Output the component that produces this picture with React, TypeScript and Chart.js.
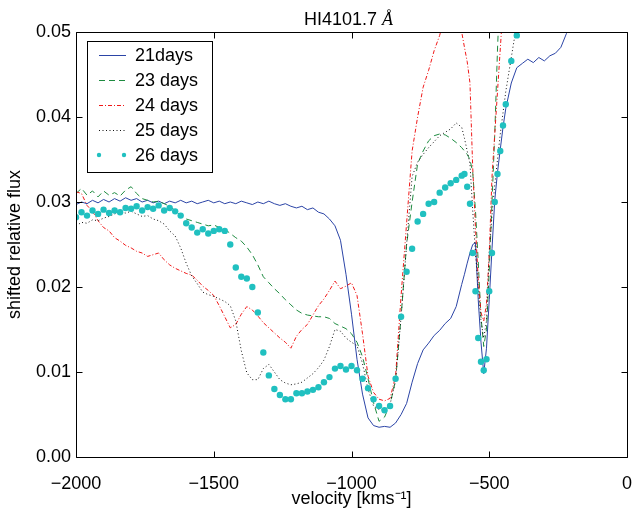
import React, { useEffect, useRef } from "react";
import { Chart, registerables } from "chart.js";

Chart.register(...registerables);

const FONT = "'Liberation Sans', Arial, Helvetica, sans-serif";

const TITLE_MAIN = "HI4101.7 ";
const TITLE_UNIT = "Å";
const X_LABEL = "velocity [kms⁻¹]";
const Y_LABEL = "shifted relative flux";
const SERIES_LABELS = ["21days", "23 days", "24 days", "25 days", "26 days"];
const X_TICKS = [-2000, -1500, -1000, -500, 0];
const Y_TICKS = [0, 0.01, 0.02, 0.03, 0.04, 0.05];

const VELOCITY = [
  -2000, -1980, -1960, -1940, -1920, -1900, -1880, -1860, -1840, -1820,
  -1800, -1780, -1760, -1740, -1720, -1700, -1680, -1660, -1640, -1620,
  -1600, -1580, -1560, -1540, -1520, -1500, -1480, -1460, -1440, -1420,
  -1400, -1380, -1360, -1340, -1320, -1300, -1280, -1260, -1240, -1220,
  -1200, -1180, -1160, -1140, -1120, -1100, -1080, -1060, -1040, -1020,
  -1000, -980, -960, -940, -920, -900, -880, -860, -840, -820,
  -800, -780, -760, -740, -720, -700, -680, -660, -640, -620,
  -600, -590, -580, -570, -560, -550, -540, -530, -520, -510,
  -500, -490, -480, -470, -460, -450, -440, -420, -400, -380,
  -360, -340, -320, -300, -280, -260, -240, -220, -200,
];

const FLUX_21 = [
  0.0297, 0.0300, 0.0298, 0.0302, 0.0299, 0.0303, 0.0300, 0.0304, 0.0301, 0.0305,
  0.0302, 0.0304, 0.0300, 0.0302, 0.0299, 0.0301, 0.0298, 0.0301, 0.0299, 0.0302,
  0.0299, 0.0301, 0.0298, 0.0300, 0.0302, 0.0299, 0.0301, 0.0298, 0.0300, 0.0298,
  0.0301, 0.0299, 0.0297, 0.0300, 0.0298, 0.0301, 0.0298, 0.0296, 0.0298, 0.0295,
  0.0293, 0.0295, 0.0291, 0.0293, 0.0288, 0.0286, 0.0280, 0.0272, 0.0255, 0.0215,
  0.0168, 0.0115, 0.0074, 0.0046, 0.0037, 0.0035, 0.0036, 0.0035, 0.0040, 0.0050,
  0.0063, 0.0088, 0.0110, 0.0126, 0.0134, 0.0143, 0.0149, 0.0157, 0.0163, 0.0177,
  0.0203, 0.0215, 0.0228, 0.0240, 0.0250, 0.0252, 0.0185, 0.0135, 0.0098, 0.0128,
  0.0185, 0.0245, 0.0302, 0.0335, 0.0362, 0.0388, 0.0410, 0.0440, 0.0458, 0.0463,
  0.0468, 0.0464, 0.0470, 0.0466, 0.0472, 0.0475, 0.0482, 0.0498, 0.0515,
];

const FLUX_23 = [
  0.0310, 0.0316, 0.0308, 0.0313, 0.0306, 0.0313, 0.0308, 0.0311, 0.0307, 0.0314,
  0.0318, 0.0310, 0.0304, 0.0302, 0.0300, 0.0301, 0.0298, 0.0295, 0.0290, 0.0284,
  0.0280, 0.0278, 0.0276, 0.0274, 0.0272, 0.0273, 0.0270, 0.0268, 0.0263, 0.0258,
  0.0254, 0.0247, 0.0238, 0.0226, 0.0212, 0.0205, 0.0198, 0.0192, 0.0185, 0.0179,
  0.0173, 0.0169, 0.0167, 0.0166, 0.0165, 0.0165, 0.0163, 0.0157, 0.0154, 0.0151,
  0.0145, 0.0135, 0.0118, 0.0092, 0.0064, 0.0042, 0.0047, 0.0062, 0.0090, 0.0165,
  0.0250, 0.0300, 0.0345, 0.0360, 0.0372, 0.0378, 0.0380, 0.0379, 0.0375, 0.0370,
  0.0364, 0.0360, 0.0356, 0.0350, 0.0335, 0.0290, 0.0230, 0.0165, 0.0130, 0.0150,
  0.0220, 0.0300, 0.0380, 0.0480, 0.0560, null, null, null, null, null,
  null, null, null, null, null, null, null, null, null,
];

const FLUX_24 = [
  0.0312, 0.0310, 0.0296, 0.0289, 0.0278, 0.0270, 0.0266, 0.0258, 0.0254, 0.0249,
  0.0246, 0.0242, 0.0240, 0.0236, 0.0238, 0.0240, 0.0232, 0.0226, 0.0222, 0.0219,
  0.0216, 0.0214, 0.0208, 0.0201, 0.0196, 0.0190, 0.0178, 0.0165, 0.0152, 0.0156,
  0.0168, 0.0177, 0.0173, 0.0166, 0.0158, 0.0152, 0.0146, 0.0140, 0.0135, 0.0128,
  0.0142, 0.0150, 0.0156, 0.0167, 0.0178, 0.0186, 0.0196, 0.0207, 0.0198, 0.0201,
  0.0205, 0.0190, 0.0145, 0.0095, 0.0076, 0.0068, 0.0066, 0.0069, 0.0095, 0.0190,
  0.0275, 0.0360, 0.0400, 0.0435, 0.0455, 0.0478, 0.0496, 0.0520, 0.0530, 0.0520,
  0.0500, 0.0482, 0.0465, 0.0440, 0.0340, 0.0270, 0.0210, 0.0170, 0.0160, 0.0180,
  0.0240, 0.0330, 0.0380, 0.0430, 0.0480, 0.0530, 0.0580, null, null, null,
  null, null, null, null, null, null, null, null, null,
];

const FLUX_25 = [
  0.0272, 0.0276, 0.0275, 0.0279, 0.0278, 0.0281, 0.0283, 0.0286, 0.0288, 0.0287,
  0.0289, 0.0286, 0.0283, 0.0284, 0.0280, 0.0278, 0.0274, 0.0266, 0.0260, 0.0246,
  0.0228, 0.0213, 0.0204, 0.0194, 0.0191, 0.0189, 0.0186, 0.0183, 0.0178, 0.0160,
  0.0125, 0.0099, 0.0091, 0.0091, 0.0104, 0.0109, 0.0100, 0.0091, 0.0087, 0.0085,
  0.0086, 0.0088, 0.0093, 0.0098, 0.0105, 0.0114, 0.0130, 0.0150, 0.0148, 0.0140,
  0.0135, 0.0131, 0.0110, 0.0080, 0.0060, 0.0056, 0.0055, 0.0062, 0.0090, 0.0165,
  0.0250, 0.0330, 0.0347, 0.0356, 0.0364, 0.0371, 0.0378, 0.0382, 0.0386, 0.0393,
  0.0388, 0.0375, 0.0360, 0.0345, 0.0290, 0.0240, 0.0200, 0.0160, 0.0140, 0.0160,
  0.0240, 0.0285, 0.0320, 0.0350, 0.0380, 0.0405, 0.0430, 0.0470, 0.0510, null,
  null, null, null, null, null, null, null, null, null,
];

const FLUX_26 = [
  0.0282, 0.0288, 0.0284, 0.0290, 0.0286, 0.0291, 0.0287, 0.0290, 0.0288, 0.0293,
  0.0292, 0.0295, 0.0290, 0.0294, 0.0292, 0.0296, 0.0290, 0.0293, 0.0289, 0.0284,
  0.0275, 0.0270, 0.0264, 0.0268, 0.0263, 0.0266, 0.0268, 0.0266, 0.0250, 0.0223,
  0.0212, 0.0210, 0.0200, 0.0170, 0.0123, 0.0096, 0.0080, 0.0073, 0.0068, 0.0068,
  0.0075, 0.0075, 0.0077, 0.0079, 0.0082, 0.0088, 0.0094, 0.0104, 0.0107, 0.0103,
  0.0107, 0.0102, 0.0092, 0.0081, 0.0068, 0.0060, 0.0055, 0.0060, 0.0092, 0.0165,
  0.0218, 0.0245, 0.0277, 0.0286, 0.0298, 0.0300, 0.0311, 0.0317, 0.0322, 0.0326,
  0.0331, 0.0333, 0.0318, 0.0298, 0.0240, 0.0195, 0.0140, 0.0112, 0.0102, 0.0115,
  0.0195, 0.0240, 0.0300, 0.0333, 0.0360, 0.0390, 0.0415, 0.0466, 0.0496, 0.0530,
  null, null, null, null, null, null, null, null, null,
];

const COLORS = ["#2b44a6", "#1e8b40", "#f01818", "#111111", "#20c0c0"];
const DASHES: number[][] = [[], [6, 4], [4, 2, 1, 2], [1, 2.5], []];

export default function App() {
  const ref = useRef<HTMLCanvasElement>(null);

  useEffect(() => {
    document.body.style.margin = "0";
    const canvas = ref.current;
    if (!canvas) return;

    const pts = (vals: (number | null)[]) =>
      VELOCITY.map((v, i) => ({ x: v, y: vals[i] }));

    const seriesVals = [FLUX_21, FLUX_23, FLUX_24, FLUX_25, FLUX_26];
    const datasets: any[] = seriesVals.map((vals, i) => {
      const isDots = i === 4;
      return {
        label: SERIES_LABELS[i],
        data: pts(vals),
        borderColor: COLORS[i],
        backgroundColor: COLORS[i],
        borderWidth: 1,
        borderDash: DASHES[i],
        showLine: !isDots,
        pointRadius: isDots ? 3.2 : 0,
        pointBorderWidth: 0,
        pointBackgroundColor: COLORS[i],
        tension: 0,
        spanGaps: false,
        order: 4 - i,
      };
    });

    const overlay = {
      id: "overlay",
      afterDraw(chart: any) {
        const { ctx, chartArea } = chart;
        const { left, right, top, bottom } = chartArea;
        const xs = chart.scales.x;
        const ys = chart.scales.y;
        ctx.save();
        ctx.strokeStyle = "#000";
        ctx.lineWidth = 1;
        const L = Math.round(left) + 0.5;
        const R = Math.round(right) + 0.5;
        const T = Math.round(top) + 0.5;
        const B = Math.round(bottom) + 0.5;
        ctx.beginPath();
        ctx.rect(L, T, R - L, B - T);
        const TL = 6;
        X_TICKS.forEach((v) => {
          const px = Math.round(xs.getPixelForValue(v)) + 0.5;
          ctx.moveTo(px, B);
          ctx.lineTo(px, B - TL);
          ctx.moveTo(px, T);
          ctx.lineTo(px, T + TL);
        });
        Y_TICKS.forEach((v) => {
          const py = Math.round(ys.getPixelForValue(v)) + 0.5;
          ctx.moveTo(L, py);
          ctx.lineTo(L + TL, py);
          ctx.moveTo(R, py);
          ctx.lineTo(R - TL, py);
        });
        ctx.stroke();

        // title
        ctx.fillStyle = "#000";
        ctx.textBaseline = "alphabetic";
        ctx.textAlign = "left";
        const mainFont = `18px ${FONT}`;
        const unitFont = `italic 18px 'Liberation Serif', 'DejaVu Serif', serif`;
        ctx.font = mainFont;
        const w1 = ctx.measureText(TITLE_MAIN).width;
        ctx.font = unitFont;
        const w2 = ctx.measureText(TITLE_UNIT).width;
        const cx = (left + right) / 2 - 3;
        const tx = cx - (w1 + w2) / 2;
        ctx.font = mainFont;
        ctx.fillText(TITLE_MAIN, tx, 25);
        ctx.font = unitFont;
        ctx.fillText(TITLE_UNIT, tx + w1, 25);

        // legend
        const bx = 87.5, by = 41.5, bw = 125, bh = 131;
        ctx.fillStyle = "#fff";
        ctx.fillRect(bx, by, bw, bh);
        ctx.strokeStyle = "#000";
        ctx.setLineDash([]);
        ctx.strokeRect(bx, by, bw, bh);
        ctx.font = mainFont;
        ctx.textBaseline = "middle";
        chart.data.datasets.forEach((ds: any, i: number) => {
          const yy = 55 + i * 25;
          if (ds.showLine === false) {
            ctx.fillStyle = ds.pointBackgroundColor;
            [99, 124].forEach((xx) => {
              ctx.beginPath();
              ctx.arc(xx, yy, 2.2, 0, Math.PI * 2);
              ctx.fill();
            });
          } else {
            ctx.strokeStyle = ds.borderColor;
            ctx.lineWidth = 1;
            ctx.setLineDash(ds.borderDash || []);
            ctx.beginPath();
            ctx.moveTo(99, Math.round(yy) + 0.5);
            ctx.lineTo(126, Math.round(yy) + 0.5);
            ctx.stroke();
            ctx.setLineDash([]);
          }
          ctx.fillStyle = "#000";
          ctx.fillText(ds.label, 135, yy + 1);
        });
        ctx.restore();
      },
    };

    const tickFont = { family: FONT, size: 18 };

    const chart = new Chart(canvas, {
      type: "line",
      data: { datasets },
      options: {
        responsive: false,
        animation: false,
        devicePixelRatio: 1,
        layout: { padding: { top: 32, right: 5, left: 0, bottom: 0 } },
        plugins: {
          legend: { display: false },
          title: { display: false },
          tooltip: { enabled: false },
        },
        scales: {
          x: {
            type: "linear",
            min: -2000,
            max: 0,
            grid: { display: false, drawTicks: false },
            border: { display: false },
            afterBuildTicks: (s: any) => {
              s.ticks = X_TICKS.map((v) => ({ value: v }));
            },
            ticks: {
              color: "#000",
              font: tickFont,
              padding: 16,
              maxRotation: 0,
              autoSkip: false,
              callback: (v: any) =>
                Number(v) < 0 ? "\u2212" + Math.abs(Number(v)) : String(v),
            },
            title: {
              display: true,
              text: X_LABEL,
              color: "#000",
              font: tickFont,
              padding: { top: 0, bottom: 2 },
            },
            afterFit: (s: any) => {
              s.height = 55;
              s.paddingLeft = 0;
              s.paddingRight = 0;
            },
          },
          y: {
            type: "linear",
            min: 0,
            max: 0.05,
            grid: { display: false, drawTicks: false },
            border: { display: false },
            afterBuildTicks: (s: any) => {
              s.ticks = Y_TICKS.map((v) => ({ value: v }));
            },
            ticks: {
              color: "#000",
              font: tickFont,
              padding: 5,
              autoSkip: false,
              callback: (v: any) => Number(v).toFixed(2),
            },
            title: {
              display: true,
              text: Y_LABEL,
              color: "#000",
              font: tickFont,
              padding: { top: 4, bottom: 0 },
            },
            afterFit: (s: any) => {
              s.width = 76;
              s.paddingTop = 0;
              s.paddingBottom = 0;
            },
          },
        },
      },
      plugins: [overlay],
    } as any);

    return () => chart.destroy();
  }, []);

  return (
    <div style={{ width: 632, height: 512 }}>
      <canvas ref={ref} width={632} height={512} style={{ display: "block" }} />
    </div>
  );
}
